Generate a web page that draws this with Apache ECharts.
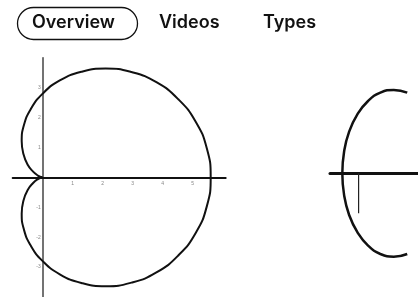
<!DOCTYPE html>
<html>
<head>
<meta charset="utf-8">
<script src="https://cdn.jsdelivr.net/npm/echarts@6/dist/echarts.min.js"></script>
<style>
  html, body { margin: 0; padding: 0; background: #fff; }
  #main { width: 418px; height: 297px; }
</style>
</head>
<body>
<div id="main"></div>
<script>
// tabs along the top
var tabs = ['Overview', 'Videos', 'Types'];

// cardioid (units along axes), starting and ending at the cusp
var cardioidX = [0, -0.04, -0.16, -0.32, -0.5, -0.64, -0.7, -0.63, -0.4, 0, 0.57, 1.29, 2.1, 2.96, 3.79, 4.52, 5.1, 5.47, 5.6,
                 5.47, 5.1, 4.52, 3.79, 2.96, 2.1, 1.29, 0.57, 0, -0.4, -0.63, -0.7, -0.64, -0.5, -0.32, -0.16, -0.04, 0];
var cardioidY = [0, 0.01, 0.06, 0.19, 0.42, 0.77, 1.21, 1.73, 2.28, 2.8, 3.24, 3.53, 3.64, 3.52, 3.18, 2.61, 1.86, 0.97, 0,
                 -0.97, -1.86, -2.61, -3.18, -3.52, -3.64, -3.53, -3.24, -2.8, -2.28, -1.73, -1.21, -0.77, -0.42, -0.19, -0.06, -0.01, 0];

// ellipse on the right, cut off by the page edge
var ellipseX = [2.21, 1.6, 0.99, 0.43, -0.05, -0.43, -0.66, -0.74, -0.66, -0.43, -0.05, 0.43, 0.99, 1.6, 2.21];
var ellipseY = [2.69, 2.78, 2.69, 2.41, 1.97, 1.39, 0.72, 0, -0.72, -1.39, -1.97, -2.41, -2.69, -2.78, -2.69];
var stemX = [0, 0];
var stemY = [0, -1.33];

// tick labels printed beside the axes
var xTicks = [1, 2, 3, 4, 5];
var yTicks = [3, 2, 1, -1, -2, -3];

function pairs(xs, ys) {
  return xs.map(function (x, i) { return [x, ys[i]]; });
}

var chart = echarts.init(document.getElementById('main'));

var tabFont = 'Inter, "Noto Sans", sans-serif';

var tickLabel = { show: true, fontSize: 5, color: '#666', formatter: function (p) { return p.name; } };

var option = {
  backgroundColor: '#fff',
  animation: false,
  grid: [
    { left: 12.7, top: 57.7, width: 213, height: 240 },
    { left: 330, top: 53.3, width: 120, height: 240 }
  ],
  xAxis: [
    {
      gridIndex: 0, type: 'value', min: -1, max: 6.1,
      splitLine: { show: false },
      axisLine: { lineStyle: { color: '#111', width: 2 } },
      axisTick: { show: false },
      axisLabel: { show: false }
    },
    {
      gridIndex: 1, type: 'value', min: -1.3, max: 2.7,
      splitLine: { show: false },
      axisLine: { lineStyle: { color: '#111', width: 3 } },
      axisTick: { show: false },
      axisLabel: { show: false }
    }
  ],
  yAxis: [
    {
      gridIndex: 0, type: 'value', min: -4, max: 4,
      splitLine: { show: false },
      axisLine: { lineStyle: { color: '#444', width: 1.5 } },
      axisTick: { show: false },
      axisLabel: { show: false }
    },
    {
      gridIndex: 1, type: 'value', min: -4, max: 4,
      show: false
    }
  ],
  series: [
    {
      type: 'line', xAxisIndex: 0, yAxisIndex: 0,
      data: pairs(cardioidX, cardioidY),
      smooth: 0.5, showSymbol: false,
      lineStyle: { color: '#111', width: 2 }
    },
    {
      type: 'scatter', xAxisIndex: 0, yAxisIndex: 0, symbolSize: 0,
      data: xTicks.map(function (v) { return { name: String(v), value: [v, 0] }; }),
      label: Object.assign({ position: 'bottom', distance: 4 }, tickLabel)
    },
    {
      type: 'scatter', xAxisIndex: 0, yAxisIndex: 0, symbolSize: 0,
      data: yTicks.map(function (v) { return { name: String(v), value: [0, v] }; }),
      label: Object.assign({ position: 'left', distance: 2 }, tickLabel)
    },
    {
      type: 'line', xAxisIndex: 1, yAxisIndex: 1,
      data: pairs(ellipseX, ellipseY),
      smooth: 0.5, showSymbol: false,
      lineStyle: { color: '#111', width: 2.5 }
    },
    {
      type: 'line', xAxisIndex: 1, yAxisIndex: 1,
      data: pairs(stemX, stemY),
      showSymbol: false,
      lineStyle: { color: '#222', width: 1.2 }
    }
  ],
  graphic: [
    {
      type: 'rect', left: 15, top: 5,
      shape: { width: 120, height: 32, r: 16 },
      style: { fill: 'none', stroke: '#111', lineWidth: 1.3 }
    },
    {
      type: 'text', left: 32, top: 14,
      style: { text: tabs[0], font: '600 18px ' + tabFont, fill: '#111' }
    },
    {
      type: 'text', left: 159, top: 14,
      style: { text: tabs[1], font: '600 18px ' + tabFont, fill: '#111' }
    },
    {
      type: 'text', left: 263, top: 14,
      style: { text: tabs[2], font: '600 18px ' + tabFont, fill: '#111' }
    }
  ]
};

chart.setOption(option);
</script>
</body>
</html>
